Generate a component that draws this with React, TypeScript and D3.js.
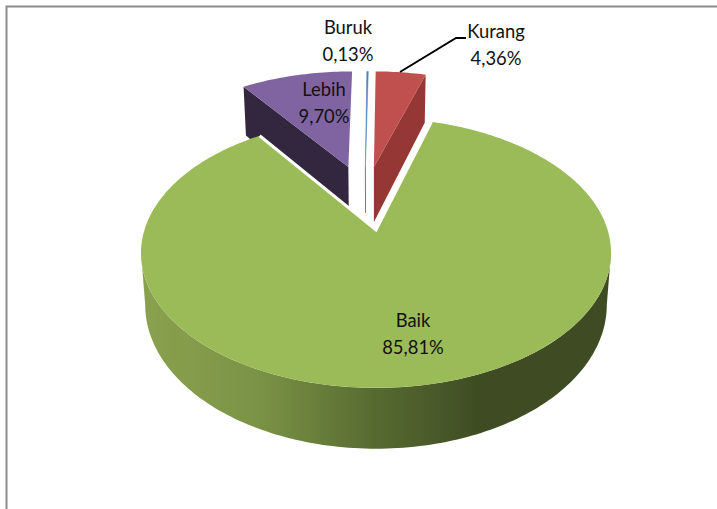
import React from "react";
import * as d3 from "d3";

const categories = ["Buruk", "Kurang", "Baik", "Lebih"];
const percents = [0.13, 4.36, 85.81, 9.7];
const percentLabels = ["0,13%", "4,36%", "85,81%", "9,70%"];
const topColors = ["#4f81bd", "#c0504d", "#9bbb59", "#8064a2"];
const sideColors = ["#4f81bd", "#953735", "url(#greenSide)", "#33273f"];
const gradientStops = [
  [0, "#8aa24e"],
  [0.25, "#7b9346"],
  [0.5, "#566a30"],
  [0.62, "#4a5a2a"],
  [0.72, "#3f4c23"],
  [1, "#3f4c23"],
];
// explosion offset of each slice in the pie plane (unit = radius)
const explodeX = [-0.05, -0.01, 0, -0.13];
const explodeY = [0.524, 0.524, 0, 0.524];
const depths = [50, 60, 50.5, 60];
const labelX = [348, 496, 413, 324];
const labelY = [34, 38, 327, 96];

const W = 717, H = 509;
const CX = 376, CY = 230, A = 231.6, B = 131, PERSP = 0.17, TAPER = 0.982;

function project(X: number, Y: number, depth = 0): [number, number] {
  const w = 1 + PERSP * Y;
  const t = depth ? TAPER : 1;
  return [CX + (A * t * X) / w, CY - (B * Y) / w + depth / w];
}

const line = d3.line<[number, number]>();
const pie = d3.pie<number>().sort(null).startAngle(0).endAngle(2 * Math.PI);

function rim(a0: number, a1: number, ox: number, oy: number, depth = 0) {
  const n = Math.max(2, Math.ceil(Math.abs(a1 - a0) / 0.02));
  return d3.range(n + 1).map((i) => {
    const a = a0 + ((a1 - a0) * i) / n;
    return project(ox + Math.sin(a), oy + Math.cos(a), depth);
  });
}

export default function App() {
  const arcs = pie(percents);
  const order = [3, 1, 0, 2];
  // angles where the projected rim reaches its widest point: the band is visible between them
  const bandStart = Math.acos(-PERSP);
  const bandEnd = 2 * Math.PI - bandStart;
  return (
    <svg width={W} height={H} style={{ position: "absolute", left: 0, top: 0, background: "#fff" }}>
      <defs>
        <linearGradient id="greenSide" gradientUnits="userSpaceOnUse" x1={CX - A - 4} x2={CX + A + 4} y1={0} y2={0}>
          {gradientStops.map(([o, c]) => (
            <stop key={String(o)} offset={Number(o)} stopColor={String(c)} />
          ))}
        </linearGradient>
      </defs>
      <path d={`M6.5,${H}V6.5H${W}`} fill="none" stroke="#8c8c8c" strokeWidth={2} />
      {order.map((i) => {
        const d = arcs[i];
        const ox = explodeX[i], oy = explodeY[i], dp = depths[i];
        const top = rim(d.startAngle, d.endAngle, ox, oy);
        const apex = project(ox, oy);
        const apexD = project(ox, oy, dp);
        const rimPt = (a: number, depth = 0) => project(ox + Math.sin(a), oy + Math.cos(a), depth);
        const sa = d.startAngle, ea = d.endAngle;
        return (
          <g key={categories[i]}>
            {i === 2 && (
              <path
                d={line([...rim(bandStart, bandEnd, ox, oy), ...rim(bandEnd, bandStart, ox, oy, dp)]) + "Z"}
                fill={sideColors[i]}
              />
            )}
            {i === 1 && <path d={line([apex, rimPt(ea), rimPt(ea, dp), apexD]) + "Z"} fill={sideColors[i]} />}
            {i === 3 && <path d={line([apex, rimPt(sa), rimPt(sa, dp), apexD]) + "Z"} fill={sideColors[i]} />}
            {i === 0 && <path d={line([apex, apexD]) ?? ""} stroke={sideColors[i]} strokeWidth={1} fill="none" />}
            <path d={line([apex, ...top]) + "Z"} fill={topColors[i]} stroke={i === 0 ? "#4f81bd" : "none"} strokeWidth={0.5} />
            {i === 2 && (
              <path
                d={line([rimPt(sa), apex, rimPt(ea)]) ?? ""}
                fill="none"
                stroke="#fff"
                strokeWidth={3}
                strokeLinejoin="miter"
              />
            )}
          </g>
        );
      })}
      <path d="M400,72L456,38H466" fill="none" stroke="#000" strokeWidth={2} />
      {categories.map((c, i) => (
        <g key={c} transform={`translate(${labelX[i]},${labelY[i]}) scale(0.92,1)`}>
          <text textAnchor="middle" fontFamily="Lato, sans-serif" fontSize={20} fill="#111">
            <tspan x={0}>{c}</tspan>
            <tspan x={0} dy={27.5}>{percentLabels[i]}</tspan>
          </text>
        </g>
      ))}
    </svg>
  );
}
